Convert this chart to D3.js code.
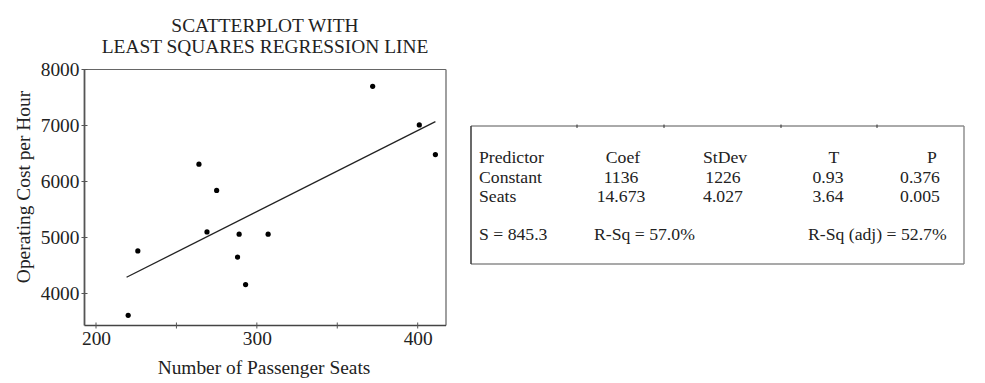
<!DOCTYPE html>
<html>
<head>
<meta charset="utf-8">
<script src="https://cdn.jsdelivr.net/npm/d3@7"></script>
<style>
  body { margin: 0; background: #fff; }
  svg text { font-family: "Liberation Serif", "Times New Roman", serif; fill: #222; }
</style>
</head>
<body>
<svg id="chart" width="985" height="383"></svg>
<script>
// scatter data
var seats = [220, 226, 264, 275, 269, 289, 307, 288, 293, 372, 401, 411];
var cost = [3610, 4760, 6310, 5840, 5100, 5060, 5060, 4650, 4160, 7700, 7010, 6480];

// drawn regression line end points
var fitX = [219, 411];
var fitY = [4290, 7070];

var xTicks = [200, 250, 300, 350, 400];
var xTickLabels = ["200", "", "300", "", "400"];
var yTicks = [4000, 5000, 6000, 7000, 8000];

// regression output table
var tableHead = ["Predictor", "Coef", "StDev", "T", "P"];
var rowConstant = ["Constant", "1136", "1226", "0.93", "0.376"];
var rowSeats = ["Seats", "14.673", "4.027", "3.64", "0.005"];
var summary = ["S = 845.3", "R-Sq = 57.0%", "R-Sq (adj) = 52.7%"];

var svg = d3.select("#chart");

// ---- scatterplot ----
var box = {left: 84.5, right: 446, top: 69.5, bottom: 325.5};

var x = d3.scaleLinear().domain([200, 400]).range([96, 417.7]);
var y = d3.scaleLinear().domain([4000, 8000]).range([293.5, 69.5]);

svg.append("text")
    .attr("x", 265).attr("y", 32)
    .attr("text-anchor", "middle")
    .style("font-size", "19.4px")
    .text("SCATTERPLOT WITH");
svg.append("text")
    .attr("x", 265).attr("y", 53)
    .attr("text-anchor", "middle")
    .style("font-size", "19.4px")
    .text("LEAST SQUARES REGRESSION LINE");

// frame: dark left/bottom, lighter top/right
svg.append("line")
    .attr("x1", box.left).attr("x2", box.right)
    .attr("y1", box.top).attr("y2", box.top)
    .attr("stroke", "#666").attr("stroke-width", 1.2);
svg.append("line")
    .attr("x1", box.right).attr("x2", box.right)
    .attr("y1", box.top).attr("y2", box.bottom)
    .attr("stroke", "#777").attr("stroke-width", 1.4);
svg.append("line")
    .attr("x1", box.left).attr("x2", box.left)
    .attr("y1", box.top).attr("y2", box.bottom)
    .attr("stroke", "#555").attr("stroke-width", 1.8);
svg.append("line")
    .attr("x1", box.left).attr("x2", box.right)
    .attr("y1", box.bottom).attr("y2", box.bottom)
    .attr("stroke", "#444").attr("stroke-width", 1.6);

// x axis ticks (straddle the frame)
var bottomAxis = d3.axisBottom(x)
    .tickValues(xTicks)
    .tickSize(0)
    .tickFormat(function(d, i) { return xTickLabels[i]; });

var xAxis = svg.append("g")
    .attr("transform", `translate(0, ${box.bottom})`)
    .call(bottomAxis);
xAxis.select(".domain").remove();
xAxis.selectAll("text")
    .attr("y", 6)
    .attr("dy", "0.71em")
    .style("font-size", "19.4px")
    .attr("fill", "#222");

svg.selectAll(".xtick")
    .data(xTicks)
    .enter()
    .append("line")
    .attr("x1", d => x(d)).attr("x2", d => x(d))
    .attr("y1", box.bottom - 3).attr("y2", box.bottom + 3)
    .attr("stroke", "#555").attr("stroke-width", 1);

// y axis
var leftAxis = d3.axisLeft(y)
    .tickValues(yTicks)
    .tickSize(0)
    .tickFormat(d3.format("d"));

var yAxis = svg.append("g")
    .attr("transform", `translate(${box.left}, 0)`)
    .call(leftAxis);
yAxis.select(".domain").remove();
yAxis.selectAll("text")
    .attr("x", -5)
    .style("font-size", "19.4px")
    .attr("fill", "#222");

svg.selectAll(".ytick")
    .data(yTicks)
    .enter()
    .append("line")
    .attr("x1", box.left - 3).attr("x2", box.left + 3)
    .attr("y1", d => y(d)).attr("y2", d => y(d))
    .attr("stroke", "#555").attr("stroke-width", 1);

// axis titles
svg.append("text")
    .attr("x", 264).attr("y", 374)
    .attr("text-anchor", "middle")
    .style("font-size", "19.4px")
    .text("Number of Passenger Seats");

svg.append("text")
    .attr("transform", "rotate(-90)")
    .attr("x", -187)
    .attr("y", 30)
    .attr("text-anchor", "middle")
    .style("font-size", "19.4px")
    .text("Operating Cost per Hour");

// regression line
svg.append("line")
    .attr("x1", x(fitX[0])).attr("y1", y(fitY[0]))
    .attr("x2", x(fitX[1])).attr("y2", y(fitY[1]))
    .attr("stroke", "#222").attr("stroke-width", 1.3);

// points
svg.selectAll(".dot")
    .data(seats)
    .enter()
    .append("circle")
    .attr("class", "dot")
    .attr("cx", d => x(d))
    .attr("cy", (d, i) => y(cost[i]))
    .attr("r", 2.6)
    .attr("fill", "#000");

// ---- regression table ----
var tbl = {left: 471, right: 964, top: 126, bottom: 264};

svg.append("line")
    .attr("x1", tbl.left).attr("x2", tbl.right)
    .attr("y1", tbl.top).attr("y2", tbl.top)
    .attr("stroke", "#555").attr("stroke-width", 1);
svg.append("line")
    .attr("x1", tbl.left).attr("x2", tbl.right)
    .attr("y1", tbl.bottom).attr("y2", tbl.bottom)
    .attr("stroke", "#555").attr("stroke-width", 1.2);
svg.append("line")
    .attr("x1", tbl.left).attr("x2", tbl.left)
    .attr("y1", tbl.top).attr("y2", tbl.bottom)
    .attr("stroke", "#444").attr("stroke-width", 1.6);
svg.append("line")
    .attr("x1", tbl.right).attr("x2", tbl.right)
    .attr("y1", tbl.top).attr("y2", tbl.bottom)
    .attr("stroke", "#888").attr("stroke-width", 1.4);

// small marks on the top edge
var topMarks = [577, 664, 781, 877];
svg.selectAll(".topmark")
    .data(topMarks)
    .enter()
    .append("line")
    .attr("x1", d => d).attr("x2", d => d)
    .attr("y1", tbl.top - 1.5).attr("y2", tbl.top + 2)
    .attr("stroke", "#333").attr("stroke-width", 1);

var headX = [479, 623, 725, 834, 932];
var headAnchor = ["start", "middle", "middle", "middle", "middle"];
var colX = [479, 621, 723, 828, 920];

function drawRow(vals, xs, yPos) {
  svg.selectAll(null)
    .data(vals)
    .enter()
    .append("text")
    .attr("x", (d, i) => xs[i])
    .attr("y", yPos)
    .attr("text-anchor", (d, i) => headAnchor[i])
    .style("font-size", "17.7px")
    .text(d => d);
}

drawRow(tableHead, headX, 162.5);
drawRow(rowConstant, colX, 182.5);
drawRow(rowSeats, colX, 201.5);

var sumX = [479, 594, 808];
svg.selectAll(".sum")
    .data(summary)
    .enter()
    .append("text")
    .attr("x", (d, i) => sumX[i])
    .attr("y", 240)
    .style("font-size", "17.7px")
    .text(d => d);
</script>
</body>
</html>
